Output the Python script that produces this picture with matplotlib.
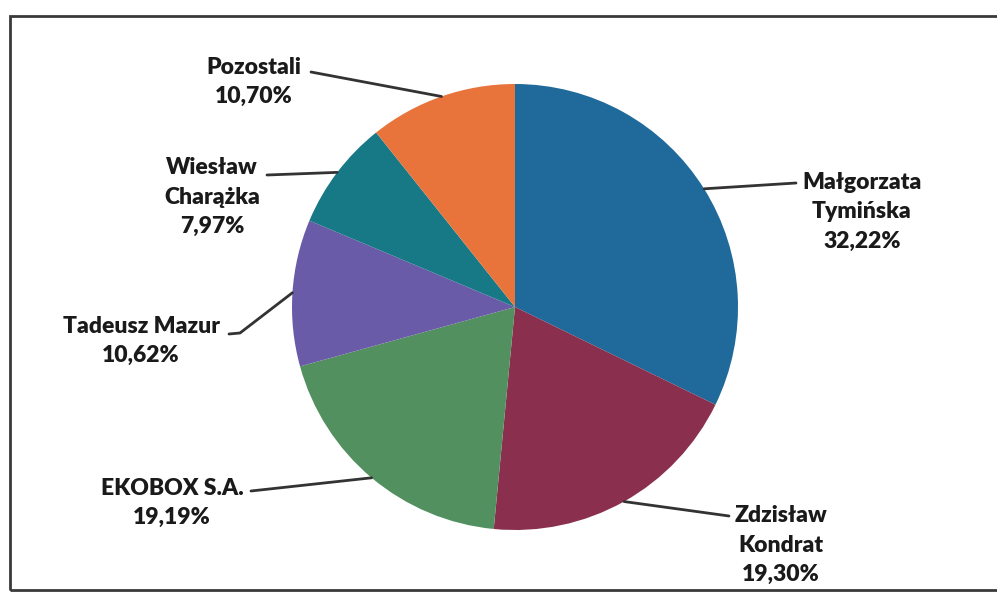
import numpy as np
import matplotlib
matplotlib.use("Agg")
import matplotlib.pyplot as plt
from matplotlib.patches import Rectangle

plt.rcParams["font.family"] = ["Lato", "DejaVu Sans"]

# -- data --
names = ["Małgorzata\nTymińska", "Zdzisław\nKondrat", "EKOBOX S.A.",
         "Tadeusz Mazur", "Wiesław\nCharążka", "Pozostali"]
shares = [32.22, 19.30, 19.19, 10.62, 7.97, 10.70]
colors = ["#1f6a9a", "#8a2f4e", "#52905f", "#6a5ba8", "#177985", "#e8743c"]

# -- layout (image pixel coords, y down) --
W, H = 997, 594
center = (515, 307)
radius = 223
# label block centres
label_xy = [(862, 212), (781, 545), (172, 503), (141, 341), (212, 197), (254, 82)]
# where the leader line leaves the text
leader_start = [[(796, 183)], [(729, 516)], [(251, 491)],
                [(229, 334), (240, 333)], [(267, 175)], [(311, 72)]]

fig = plt.figure(figsize=(W / 100, H / 100), dpi=100)
ax = fig.add_axes([0, 0, 1, 1])

fy = lambda y: H - y

wedges, _ = ax.pie(shares, colors=colors, startangle=90, counterclock=False,
                   center=(center[0], fy(center[1])), radius=radius,
                   frame=True)
ax.set_xlim(0, W)
ax.set_ylim(0, H)
ax.set_aspect("equal")
ax.axis("off")

for w, name, v, (lx, ly), pts in zip(wedges, names, shares, label_xy, leader_start):
    mid = np.deg2rad((w.theta1 + w.theta2) / 2)
    ex = center[0] + radius * np.cos(mid)
    ey = fy(center[1]) + radius * np.sin(mid)
    xs = [p[0] for p in pts] + [ex]
    ys = [fy(p[1]) for p in pts] + [ey]
    ax.plot(xs, ys, color="#333333", lw=2, solid_capstyle="round")
    txt = name + "\n" + f"{v:.2f}".replace(".", ",") + "%"
    ax.text(lx, fy(ly), txt, ha="center", va="center", fontsize=16.5,
            fontweight="heavy", color="#1a1a1a", linespacing=1.5)

# border of the chart area
ax.add_patch(Rectangle((10, fy(590)), 1030, 574, fill=False,
                       edgecolor="#3a3a3a", lw=2, clip_on=False))

fig.savefig("out.png", dpi=100)
